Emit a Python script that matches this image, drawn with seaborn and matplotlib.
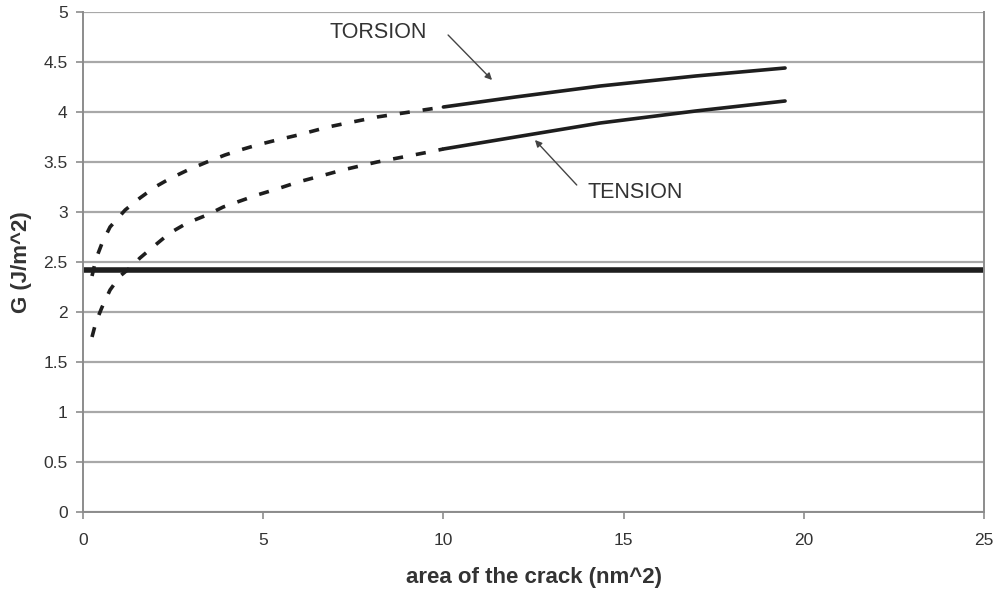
import numpy as np
import pandas as pd
import matplotlib
matplotlib.use("Agg")
import matplotlib.pyplot as plt
import seaborn as sns

# ---- data ----
torsion_dash_x = [0.25, 0.36, 0.53, 0.75, 1.17, 1.58, 2.0, 2.39, 2.91, 3.44, 3.94, 4.36, 4.83, 5.38, 5.97, 6.8, 7.2, 8.16, 9.07, 10.0]
torsion_dash_y = [2.36, 2.53, 2.69, 2.85, 3.02, 3.14, 3.25, 3.33, 3.42, 3.50, 3.57, 3.62, 3.67, 3.72, 3.77, 3.85, 3.88, 3.95, 4.00, 4.05]
torsion_solid_x = [10.0, 12.0, 14.35, 17.0, 19.48]
torsion_solid_y = [4.05, 4.15, 4.26, 4.36, 4.44]

tension_dash_x = [0.25, 0.36, 0.53, 0.75, 1.03, 1.3, 1.58, 1.94, 2.41, 2.89, 3.44, 3.89, 4.36, 4.83, 5.38, 5.97, 6.8, 7.2, 8.16, 9.6, 10.0]
tension_dash_y = [1.75, 1.90, 2.05, 2.22, 2.36, 2.44, 2.54, 2.65, 2.79, 2.89, 2.97, 3.05, 3.11, 3.17, 3.23, 3.30, 3.38, 3.42, 3.50, 3.60, 3.63]
tension_solid_x = [10.0, 12.0, 14.35, 17.0, 19.48]
tension_solid_y = [3.63, 3.75, 3.89, 4.01, 4.11]

threshold_x = [0, 25]
threshold_y = [2.42, 2.42]

x_ticks = [0, 5, 10, 15, 20, 25]
y_ticks = [0, 0.5, 1, 1.5, 2, 2.5, 3, 3.5, 4, 4.5, 5]
y_tick_labels = ["0", "0.5", "1", "1.5", "2", "2.5", "3", "3.5", "4", "4.5", "5"]

sns.set_style("white")
plt.rcParams["font.family"] = ["Liberation Sans", "DejaVu Sans"]

fig = plt.figure(figsize=(9.94, 5.96), dpi=100)
ax = fig.add_axes([83/994, 1 - 512/596, (984 - 83)/994, (512 - 12)/596])

ax.set_xlim(0, 25)
ax.set_ylim(0, 5)

# gridlines
ax.set_yticks(y_ticks)
ax.set_yticklabels(y_tick_labels)
ax.set_xticks(x_ticks)
ax.grid(axis="y", color="#a8a8a8", linewidth=1.6)
ax.grid(axis="x", visible=False)
ax.set_axisbelow(True)

line_col = "#1e1e1e"
sns.lineplot(x=threshold_x, y=threshold_y, ax=ax, color=line_col, linewidth=4.0, estimator=None)
sns.lineplot(x=torsion_dash_x, y=torsion_dash_y, ax=ax, color=line_col, linewidth=2.6,
             estimator=None, sort=False, dashes=False, linestyle=(0, (2.8, 3.6)))
sns.lineplot(x=torsion_solid_x, y=torsion_solid_y, ax=ax, color=line_col, linewidth=2.6, estimator=None)
sns.lineplot(x=tension_dash_x, y=tension_dash_y, ax=ax, color=line_col, linewidth=2.6,
             estimator=None, sort=False, dashes=False, linestyle=(0, (2.8, 3.6)))
sns.lineplot(x=tension_solid_x, y=tension_solid_y, ax=ax, color=line_col, linewidth=2.6, estimator=None)

# annotations: text labels and separate arrows
ax.text(8.2, 4.79, "TORSION", ha="center", va="center", fontsize=15.5, color="#333333")
ax.text(15.32, 3.19, "TENSION", ha="center", va="center", fontsize=15.5, color="#333333")
ax.annotate("", xy=(11.35, 4.32), xytext=(10.13, 4.77),
            arrowprops=dict(arrowstyle="-|>", color="#444444", lw=1.0, mutation_scale=10,
                            shrinkA=0, shrinkB=0))
ax.annotate("", xy=(12.54, 3.72), xytext=(13.7, 3.27),
            arrowprops=dict(arrowstyle="-|>", color="#444444", lw=1.0, mutation_scale=10,
                            shrinkA=0, shrinkB=0))

# spines
for side in ["left", "bottom", "right"]:
    ax.spines[side].set_visible(True)
    ax.spines[side].set_color("#8c8c8c")
    ax.spines[side].set_linewidth(1.4)
ax.spines["top"].set_visible(False)

ax.tick_params(axis="both", which="major", direction="out", length=5, width=1.2,
               color="#8c8c8c", labelsize=12.5, labelcolor="#333333",
               left=True, bottom=True)
ax.tick_params(axis="x", pad=10)
ax.tick_params(axis="y", pad=6)

ax.set_xlabel("area of the crack (nm^2)", fontsize=16, fontweight="bold", color="#333333", labelpad=14)
ax.set_ylabel("G (J/m^2)", fontsize=16, fontweight="bold", color="#333333", labelpad=8)

fig.savefig("out.png", dpi=100, facecolor="white")
